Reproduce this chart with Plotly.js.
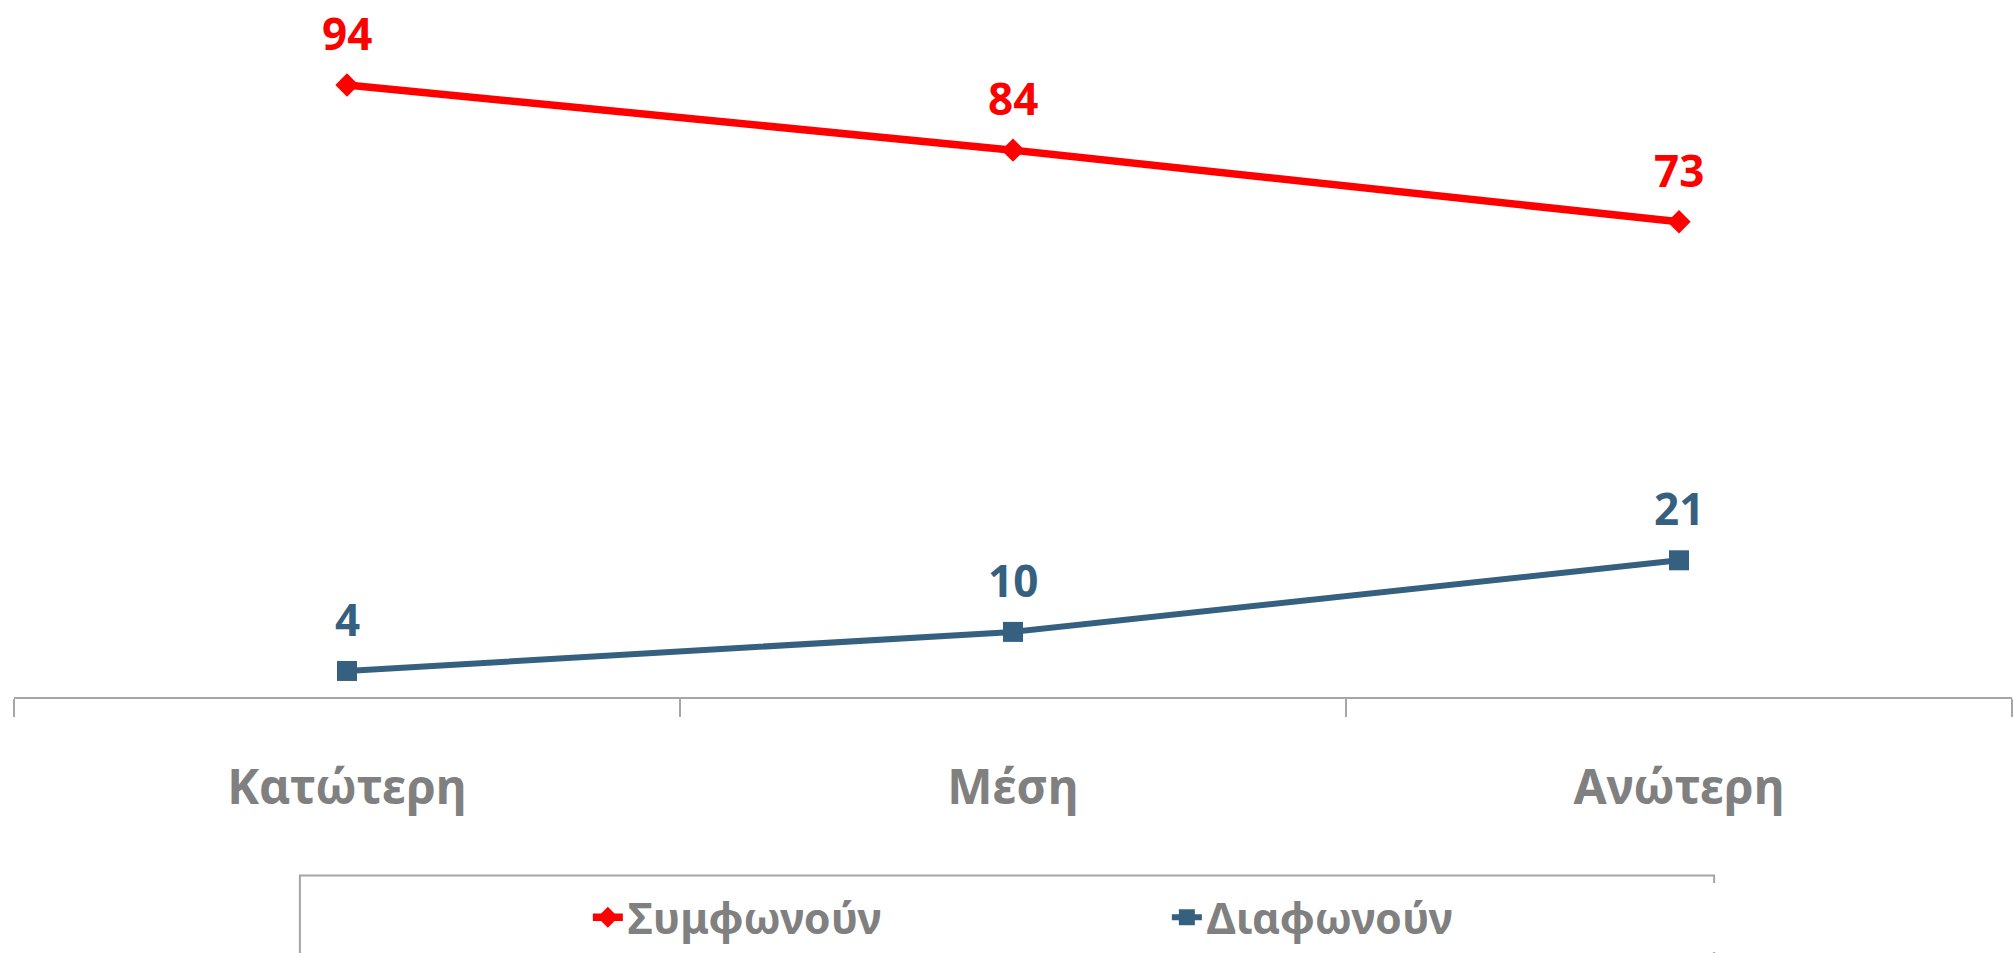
<!DOCTYPE html>
<html>
<head>
<meta charset="utf-8">
<script src="https://cdn.plot.ly/plotly-3.0.1.min.js"></script>
<style>
html,body{margin:0;padding:0;background:#fff;}
#chart{width:2013px;height:953px;}
</style>
</head>
<body>
<div id="chart"></div>
<script>
var categories = ['Κατώτερη', 'Μέση', 'Ανώτερη'];
var seriesNames = ['Συμφωνούν', 'Διαφωνούν'];
var agree = [94, 84, 73];
var disagree = [4, 10, 21];

var RED = '#FF0000';
var BLUE = '#36607F';
var GRAY = '#808080';
var FONT = 'Noto Sans, Open Sans, sans-serif';

var traces = [
  {
    x: categories, y: agree, name: seriesNames[0], type: 'scatter', mode: 'lines+markers',
    line: {color: RED, width: 7.5},
    marker: {symbol: 'diamond', size: 18, color: RED},
    hoverinfo: 'skip'
  },
  {
    x: categories, y: disagree, name: seriesNames[1], type: 'scatter', mode: 'lines+markers',
    line: {color: BLUE, width: 6},
    marker: {symbol: 'square', size: 20, color: BLUE},
    hoverinfo: 'skip'
  }
];

var annotations = [];
function addLabels(vals, color) {
  for (var i = 0; i < categories.length; i++) {
    annotations.push({
      x: categories[i], y: vals[i], xref: 'x', yref: 'y',
      text: String(vals[i]), showarrow: false,
      yanchor: 'middle', yshift: 52,
      font: {family: FONT, size: 44, color: color, weight: 700}
    });
  }
}
addLabels(agree, RED);
addLabels(disagree, BLUE);

var layout = {
  width: 2013, height: 953,
  margin: {l: 14, r: 1, t: 46, b: 254},
  paper_bgcolor: '#fff', plot_bgcolor: '#fff',
  showlegend: true,
  legend: {
    orientation: 'h', x: 0.577, xanchor: 'center', y: -0.3384, yanchor: 'middle',
    font: {family: FONT, size: 43, color: GRAY, weight: 700},
    entrywidth: 534, traceorder: 'normal'
  },
  xaxis: {
    type: 'category', range: [-0.5, 2.5], showgrid: false, zeroline: false,
    showline: true, linecolor: '#A6A6A6', linewidth: 2,
    ticks: 'outside', tickson: 'boundaries', ticklen: 18, tickwidth: 2, tickcolor: '#A6A6A6',
    ticklabelstandoff: 47,
    tickfont: {family: FONT, size: 48, color: GRAY, weight: 700},
    fixedrange: true
  },
  yaxis: {range: [0, 100], visible: false, fixedrange: true},
  annotations: annotations,
  shapes: [{
    type: 'rect', xref: 'paper', yref: 'paper',
    x0: 0.1431, x1: 0.8509, y0: -0.2741, y1: -0.42,
    line: {color: '#A6A6A6', width: 2}, fillcolor: 'rgba(0,0,0,0)'
  }]
};

Plotly.newPlot('chart', traces, layout, {displayModeBar: false, staticPlot: true});
</script>
</body>
</html>
